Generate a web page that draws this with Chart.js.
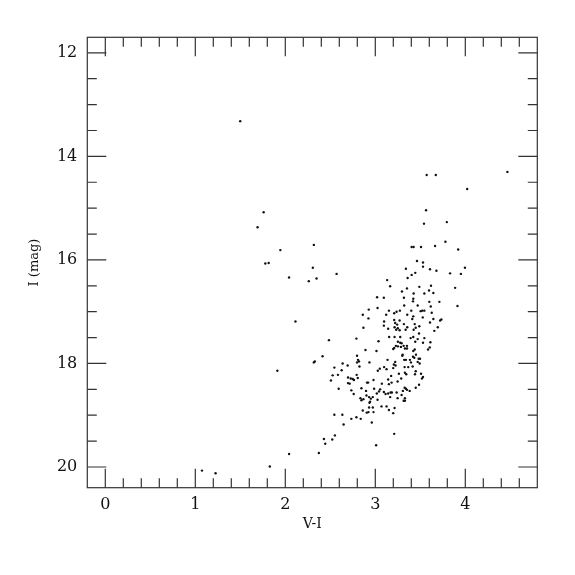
<!DOCTYPE html>
<html>
<head>
<meta charset="utf-8">
<title>CMD</title>
<script src="https://cdn.jsdelivr.net/npm/chart.js@4.4.1/dist/chart.umd.min.js"></script>
<style>
  html, body { margin: 0; padding: 0; background: #fff; }
  #wrap { width: 575px; height: 575px; }
</style>
</head>
<body>
<div id="wrap"><canvas id="cmd"></canvas></div>
<script>
// colour V-I and magnitude I of each star
const vi = [
  1.499, 1.759, 1.692, 3.571, 3.672, 4.468, 4.021, 3.564, 3.541, 3.795,
  1.778, 1.815, 1.945, 2.042, 1.912, 2.042, 1.828, 1.074, 1.225, 2.373,
  2.317, 2.306, 2.261, 2.347, 2.570, 3.020, 2.927, 3.025, 2.861, 2.924, 2.113, 2.868, 2.790, 2.485,
  3.779, 3.921, 3.404, 3.426, 3.508, 3.664, 3.463, 3.530, 3.530, 3.608, 3.679, 3.340, 3.404, 3.444,
  3.359, 3.996, 3.951, 3.831, 3.132, 3.165, 3.489, 3.619, 3.887, 3.296, 3.352, 3.426, 3.545, 3.597,
  3.645, 3.095, 3.318, 3.422, 3.419, 3.600, 3.712, 3.913, 3.321, 3.471, 3.616, 3.151, 3.121, 3.210,
  3.236, 3.273, 3.400, 3.504, 3.522, 3.545, 3.422, 3.411, 3.355, 3.527, 3.645, 3.720, 3.734, 3.627,
  3.098, 3.095, 3.143, 3.210, 3.221, 3.243, 3.270, 3.318, 3.438, 3.489, 3.608, 3.694, 3.656, 3.214,
  3.250, 3.270, 3.232, 3.355, 3.337, 3.426, 3.449, 3.154, 3.214, 3.277, 3.393, 3.422, 3.471, 3.545, 3.486,
  3.036, 2.414, 2.317, 2.328, 2.797, 2.891, 3.013, 2.808, 2.819, 2.797, 2.824, 2.637, 2.693, 2.935,
  2.545, 2.626, 2.585, 2.526, 2.507, 3.028, 3.050, 2.793, 2.697, 2.727, 2.749, 2.763, 2.805, 2.697,
  2.715, 2.980, 2.908, 2.920, 2.593, 2.734, 2.760, 2.846, 2.897, 2.987, 3.042, 3.054, 3.017, 2.835,
  2.846, 2.868, 2.902, 2.931, 2.950, 2.972, 2.935, 2.942, 3.025, 2.931, 2.972, 2.861, 2.905, 2.924,
  2.980, 2.545, 2.634, 2.734, 2.790, 2.838, 2.648, 2.961, 2.551, 2.429, 2.522, 2.444, 3.009,
  3.251, 3.277, 3.229, 3.251, 3.210, 3.285, 3.315, 3.329, 3.352, 3.352, 3.292, 3.444, 3.530, 3.612,
  3.605, 3.586, 3.422, 3.438, 3.199, 3.304, 3.300, 3.452, 3.419, 3.433, 3.482, 3.497, 3.321, 3.340,
  3.385, 3.396, 3.471, 3.493, 3.221, 3.206, 3.225, 3.136, 3.098, 3.125, 3.199, 3.326, 3.366, 3.415,
  3.449, 3.441, 3.508, 3.530, 3.519, 3.262, 3.329, 3.344, 3.176, 3.288, 3.143, 3.181, 3.151, 3.248,
  3.073, 3.486, 3.449, 3.326, 3.340, 3.352, 3.307, 3.382, 3.095, 3.143, 3.170, 3.184, 3.114, 3.292,
  3.237, 3.165, 3.248, 3.329, 3.329, 3.315, 3.069, 3.125, 3.151, 3.214, 3.199, 3.210
];
const imag = [
  13.32, 15.08, 15.37, 14.36, 14.36, 14.30, 14.63, 15.04, 15.30, 15.27,
  16.07, 16.06, 15.81, 16.34, 18.14, 19.75, 19.99, 20.07, 20.12, 19.73,
  15.71, 16.15, 16.41, 16.36, 16.27, 16.72, 16.96, 16.93, 17.06, 17.13, 17.19, 17.31, 17.52, 17.55,
  15.65, 15.80, 15.75, 15.75, 15.75, 15.73, 16.02, 16.05, 16.13, 16.18, 16.21, 16.17, 16.29, 16.25,
  16.35, 16.15, 16.27, 16.26, 16.39, 16.51, 16.52, 16.50, 16.54, 16.61, 16.55, 16.65, 16.65, 16.59,
  16.64, 16.73, 16.73, 16.75, 16.80, 16.81, 16.81, 16.89, 16.88, 16.88, 16.90, 16.98, 17.06, 17.03,
  17.00, 16.98, 16.98, 16.99, 16.98, 16.98, 17.09, 17.14, 17.06, 17.11, 17.14, 17.17, 17.15, 17.02,
  17.19, 17.27, 17.33, 17.16, 17.22, 17.25, 17.17, 17.24, 17.24, 17.28, 17.21, 17.30, 17.37, 17.30,
  17.32, 17.36, 17.35, 17.30, 17.35, 17.35, 17.31, 17.49, 17.49, 17.49, 17.51, 17.49, 17.53, 17.51, 17.42,
  17.57, 17.86, 17.98, 17.96, 17.85, 17.74, 17.76, 17.93, 17.96, 17.98, 18.06, 18.00, 18.04, 17.98,
  18.08, 18.13, 18.22, 18.23, 18.33, 18.14, 18.10, 18.22, 18.27, 18.29, 18.30, 18.32, 18.28, 18.38,
  18.39, 18.32, 18.37, 18.37, 18.49, 18.52, 18.59, 18.48, 18.53, 18.49, 18.54, 18.50, 18.58, 18.67,
  18.71, 18.69, 18.62, 18.65, 18.68, 18.65, 18.76, 18.74, 18.70, 18.85, 18.85, 18.91, 18.95, 18.94,
  18.94, 18.99, 18.99, 19.07, 19.04, 19.07, 19.18, 19.14, 19.39, 19.46, 19.47, 19.55, 19.58,
  17.58, 17.60, 17.66, 17.67, 17.70, 17.68, 17.66, 17.71, 17.71, 17.66, 17.61, 17.58, 17.60, 17.59,
  17.69, 17.73, 17.76, 17.73, 17.72, 17.83, 17.85, 17.83, 17.87, 17.89, 17.91, 17.91, 17.93, 17.93,
  17.93, 17.98, 17.97, 18.00, 17.97, 18.02, 18.04, 17.93, 18.07, 18.11, 18.09, 18.07, 18.07, 18.06,
  18.15, 18.21, 18.20, 18.26, 18.29, 18.20, 18.18, 18.21, 18.24, 18.29, 18.31, 18.37, 18.40, 18.35,
  18.39, 18.41, 18.47, 18.47, 18.49, 18.51, 18.53, 18.53, 18.55, 18.58, 18.56, 18.56, 18.59, 18.61,
  18.56, 18.65, 18.67, 18.67, 18.72, 18.72, 18.83, 18.83, 18.90, 18.86, 18.96, 19.36
];

const xTicks = [0, 1, 2, 3, 4];
const yTicks = [12, 14, 16, 18, 20];

const points = vi.map((v, i) => ({ x: v, y: imag[i] }));
const serif = '"DejaVu Serif", "Liberation Serif", serif';

// box round the plot with inward ticks on all four sides
const frameTicks = {
  id: 'frameTicks',
  afterDraw(chart) {
    const { ctx, chartArea: a, scales: { x, y } } = chart;
    ctx.save();
    ctx.strokeStyle = '#333';
    ctx.lineWidth = 1.2;
    ctx.strokeRect(a.left, a.top, a.right - a.left, a.bottom - a.top);
    ctx.beginPath();
    for (let i = 0; i <= 23; i++) {
      const px = x.getPixelForValue(i * 0.2);
      const len = i % 5 === 0 ? 19 : 9.5;
      ctx.moveTo(px, a.bottom); ctx.lineTo(px, a.bottom - len);
      ctx.moveTo(px, a.top); ctx.lineTo(px, a.top + len);
    }
    for (let i = 0; i <= 16; i++) {
      const py = y.getPixelForValue(12 + i * 0.5);
      const len = i % 4 === 0 ? 19 : 9.5;
      ctx.moveTo(a.left, py); ctx.lineTo(a.left + len, py);
      ctx.moveTo(a.right, py); ctx.lineTo(a.right - len, py);
    }
    ctx.stroke();
    ctx.restore();
  }
};

new Chart(document.getElementById('cmd'), {
  type: 'scatter',
  data: {
    datasets: [{
      data: points,
      backgroundColor: '#111',
      borderWidth: 0,
      pointRadius: 1.2,
      pointHoverRadius: 1.2
    }]
  },
  options: {
    responsive: true,
    maintainAspectRatio: false,
    animation: false,
    layout: { padding: { left: 0, top: 37.3, right: 37.7, bottom: 0 } },
    plugins: { legend: { display: false }, tooltip: { enabled: false } },
    scales: {
      x: {
        type: 'linear',
        min: -0.2,
        max: 4.8,
        grid: { display: false, drawTicks: false },
        border: { display: false },
        afterBuildTicks: s => { s.ticks = xTicks.map(v => ({ value: v })); },
        afterFit: s => { s.height = 87.3; },
        ticks: {
          padding: 8,
          color: '#111',
          font: { family: serif, size: 16 },
          callback: v => String(v)
        },
        title: {
          display: true,
          text: 'V-I',
          color: '#111',
          font: { family: serif, size: 14 },
          padding: { top: 0, bottom: 42.6 }
        }
      },
      y: {
        type: 'linear',
        reverse: true,
        min: 11.7,
        max: 20.4,
        grid: { display: false, drawTicks: false },
        border: { display: false },
        afterBuildTicks: s => { s.ticks = yTicks.map(v => ({ value: v })); },
        afterFit: s => { s.width = 87.3; },
        ticks: {
          padding: 10,
          color: '#111',
          font: { family: serif, size: 16 },
          callback: v => String(v)
        },
        title: {
          display: true,
          text: 'I (mag)',
          color: '#111',
          font: { family: serif, size: 13 },
          padding: { top: 26.6, bottom: 0 }
        }
      }
    }
  },
  plugins: [frameTicks]
});
</script>
</body>
</html>
